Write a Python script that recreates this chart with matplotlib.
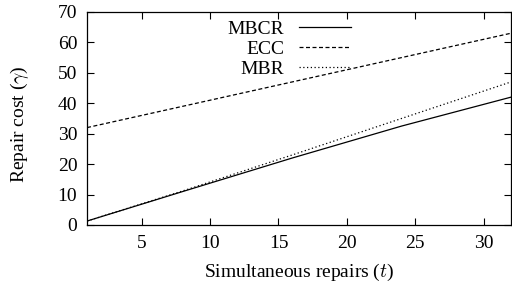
import numpy as np
import matplotlib
matplotlib.use("Agg")
import matplotlib.pyplot as plt

# values
t_pts = [1, 8, 16, 24, 32]
mbcr = [1.3, 11.0, 22.0, 32.5, 42.0]
ecc = [32.0, 39.0, 47.0, 55.0, 63.0]
mbr = [1.3, 11.2, 23.0, 35.0, 47.0]

x_ticks = [5, 10, 15, 20, 25, 30]
y_ticks = [0, 10, 20, 30, 40, 50, 60, 70]

plt.rcParams['font.family'] = ['Liberation Serif', 'DejaVu Serif']
plt.rcParams['mathtext.fontset'] = 'cm'
fs = 14

fig = plt.figure(figsize=(5.12, 2.86), dpi=100)
ax = fig.add_axes([0.170, 0.2133, 0.828, 0.745])

ax.plot(t_pts, mbcr, color='black', lw=0.9, ls='-', label='MBCR')
ax.plot(t_pts, ecc, color='black', lw=0.9, ls=(0, (3.2, 2.0)), label='ECC')
ax.plot(t_pts, mbr, color='black', lw=0.9, ls=(0, (1.0, 2.0)), label='MBR')

ax.set_xlim(1, 32)
ax.set_ylim(0, 70)
ax.set_xticks(x_ticks)
ax.set_yticks(y_ticks)
ax.tick_params(direction='in', length=5, width=0.8, top=True, right=True,
               labelsize=fs, pad=7)
for sp in ax.spines.values():
    sp.set_linewidth(0.9)

ax.set_xlabel('Simultaneous repairs ($t$)', fontsize=fs, va='top')
ax.xaxis.set_label_coords(0.501, -0.175)
ax.set_ylabel(r'Repair cost ($\gamma$)', fontsize=fs)
ax.yaxis.set_label_coords(-0.132, 0.474)

ax.legend(loc='upper right', bbox_to_anchor=(0.623, 0.962), markerfirst=False,
          frameon=False, fontsize=fs, handlelength=2.7, handletextpad=0.75,
          labelspacing=0.12, borderpad=0, borderaxespad=0)

fig.savefig('out.png', dpi=100)
